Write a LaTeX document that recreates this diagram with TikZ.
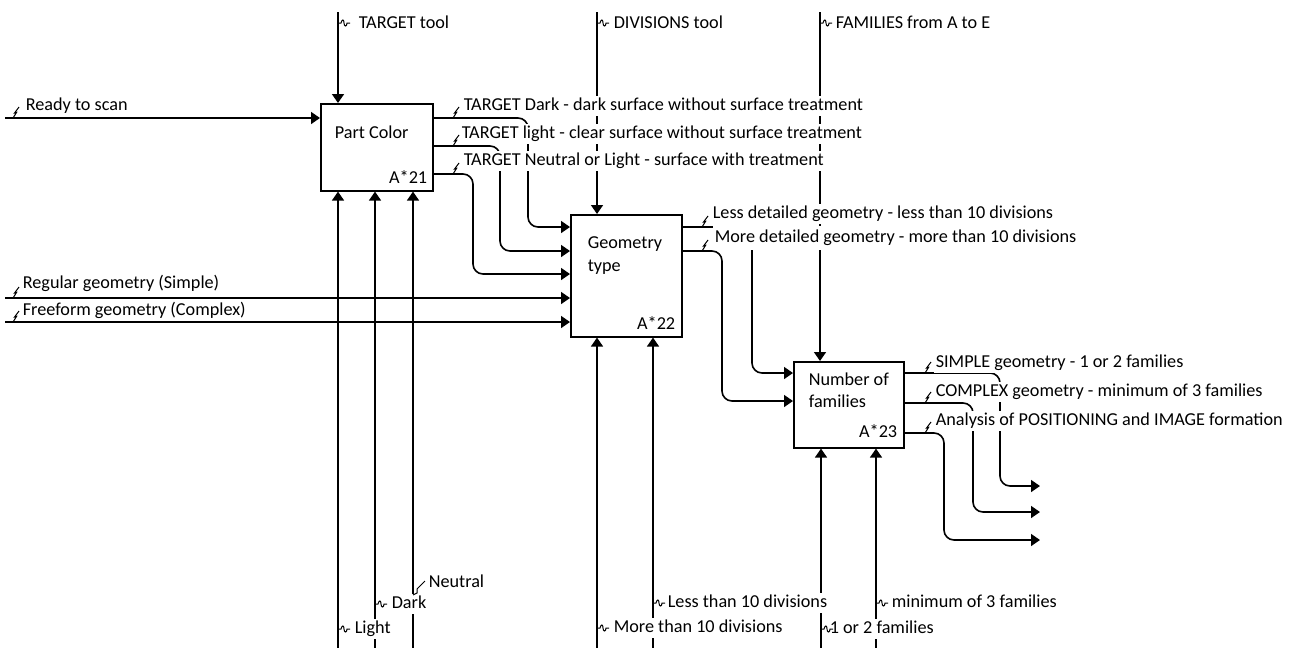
\documentclass[tikz,border=0pt]{standalone}
\usepackage{fontspec}
\setmainfont{Carlito}
\usetikzlibrary{arrows.meta}
\begin{document}
\begin{tikzpicture}[x=1pt,y=-1pt,
  line width=1.6pt,
  box/.style={draw, line width=1.6pt, anchor=north west, inner sep=0pt},
  fnt/.style={font=\fontsize{18.2}{21}\selectfont},
  lbl/.style={fnt, fill=white, anchor=west, inner xsep=1.5pt, inner ysep=1.5pt, text height=13.3pt, text depth=4.6pt},
  txt/.style={fnt, inner sep=0pt, text height=13.3pt, text depth=4.6pt},
  arr/.style={-{Triangle[width=12pt,length=9pt]}, rounded corners=10pt},
  pics/zl/.style={code={\draw[line width=1pt] (0,0) -- (3.5,-5.5) -- (1.5,-5) -- (6,-11);}},
  pics/zh/.style={code={\draw[line width=1pt] (0,0) -- (3,0) .. controls (4,-4) and (6,-4) .. (6,0) .. controls (6,4) and (9,4) .. (9,0) -- (12,0);}}
]
\useasboundingbox (0,0) rectangle (1294,648);

% boxes
\node[box, minimum width=112pt, minimum height=87pt] (b1) at (320,103) {};
\node[box, minimum width=111pt, minimum height=122pt] (b2) at (570,214) {};
\node[box, minimum width=110pt, minimum height=86pt] (b3) at (793,361) {};

\node[txt, anchor=west] (b1t) at (334,134) {Part Color};
\node[txt, anchor=east] (b1n) at (428,179) {A*21};
\node[txt, anchor=west] (b2t) at (587,244) {Geometry};
\node[txt, anchor=west] (b2u) at (587,267) {type};
\node[txt, anchor=east] (b2n) at (676,325) {A*22};
\node[txt, anchor=west] (b3t) at (808,381) {Number of};
\node[txt, anchor=west] (b3u) at (808,403) {families};
\node[txt, anchor=east] (b3n) at (898,433) {A*23};

% free ends
\coordinate (i1) at (5,118);
\coordinate (i2) at (5,298);
\coordinate (i3) at (5,322);
\coordinate (t1) at (338,12);
\coordinate (t2) at (597,12);
\coordinate (t3) at (820,12);
\coordinate (m1) at (338,648);
\coordinate (m2) at (375,648);
\coordinate (m3) at (413,648);
\coordinate (m4) at (597,648);
\coordinate (m5) at (653,648);
\coordinate (m6) at (821,648);
\coordinate (m7) at (876,648);
\coordinate (o1) at (1040,486);
\coordinate (o2) at (1040,512);
\coordinate (o3) at (1040,540);

% inputs
\draw[arr] (i1) -- ([yshift=-15pt]b1.north west);
\draw[arr] (i2) -- ([yshift=-84pt]b2.north west);
\draw[arr] (i3) -- ([yshift=-108pt]b2.north west);
% controls
\draw[arr] (t1) -- (b1.north -| t1);
\draw[arr] (t2) -- (b2.north -| t2);
\draw[arr] (t3) -- (b3.north -| t3);
% mechanisms
\draw[arr] (m1) -- (b1.south -| m1);
\draw[arr] (m2) -- (b1.south -| m2);
\draw[arr] (m3) -- (b1.south -| m3);
\draw[arr] (m4) -- (b2.south -| m4);
\draw[arr] (m5) -- (b2.south -| m5);
\draw[arr] (m6) -- (b3.south -| m6);
\draw[arr] (m7) -- (b3.south -| m7);
% b1 -> b2
\draw[arr] ([yshift=-15pt]b1.north east) -- (528,118) -- (528,227) -- ([yshift=-13pt]b2.north west);
\draw[arr] ([yshift=-43pt]b1.north east) -- (500,146) -- (500,251) -- ([yshift=-37pt]b2.north west);
\draw[arr] ([yshift=-71pt]b1.north east) -- (473,174) -- (473,274) -- ([yshift=-60pt]b2.north west);
% b2 -> b3
\draw[arr] ([yshift=-13pt]b2.north east) -- (752,227) -- (752,373) -- ([yshift=-12pt]b3.north west);
\draw[arr] ([yshift=-37pt]b2.north east) -- (722,251) -- (722,401) -- ([yshift=-40pt]b3.north west);
% b3 outputs
\draw[arr] ([yshift=-12pt]b3.north east) -- (1000,373) -- (1000,486) -- (o1);
\draw[arr] ([yshift=-42pt]b3.north east) -- (973,403) -- (973,512) -- (o2);
\draw[arr] ([yshift=-72pt]b3.north east) -- (944,433) -- (944,540) -- (o3);

% labels
\node[lbl] (l1) at (23.5,106) {Ready to scan};
\node[lbl] (l2) at (20.5,284) {Regular geometry (Simple)};
\node[lbl] (l3) at (20.5,311) {Freeform geometry (Complex)};
\node[lbl] (l4) at (356.5,24) {TARGET tool};
\node[lbl] (l5) at (611.5,24) {DIVISIONS tool};
\node[lbl] (l6) at (833.5,24) {FAMILIES from A to E};
\node[lbl] (l7) at (461.5,106) {TARGET Dark - dark surface without surface treatment};
\node[lbl] (l8) at (459.5,134) {TARGET light - clear surface without surface treatment};
\node[lbl] (l9) at (461.5,161) {TARGET Neutral or Light - surface with treatment};
\node[lbl] (l10) at (710.5,214) {Less detailed geometry - less than 10 divisions};
\node[lbl, inner ysep=3.2pt] (l11) at (712.5,238) {More detailed geometry - more than 10 divisions};
\node[lbl] (l12) at (933.5,363) {SIMPLE geometry - 1 or 2 families};
\node[lbl] (l13) at (933.5,392) {COMPLEX geometry - minimum of 3 families};
\node[lbl] (l14) at (933.5,421) {Analysis of POSITIONING and IMAGE formation};
\node[lbl] (l15) at (426.5,583) {Neutral};
\node[lbl] (l16) at (389.5,604) {Dark};
\node[lbl] (l17) at (352.5,629) {Light};
\node[lbl] (l18) at (665.5,603) {Less than 10 divisions};
\node[lbl] (l19) at (611.5,628) {More than 10 divisions};
\node[lbl] (l20) at (889.5,603) {minimum of 3 families};
\node[lbl] (l21) at (827.5,629) {1 or 2 families};

% squiggles
\pic at (13,118) {zl};
\pic at (13,298) {zl};
\pic at (13,322) {zl};
\pic at (453,118) {zl};
\pic at (453,146) {zl};
\pic at (453,174) {zl};
\pic at (702,227) {zl};
\pic at (702,251) {zl};
\pic at (925,373) {zl};
\pic at (925,403) {zl};
\pic at (925,433) {zl};
\pic at (338,23) {zh};
\pic at (597,23) {zh};
\pic at (820,23) {zh};
\pic at (375,604) {zh};
\pic at (338,629) {zh};
\pic at (653,603) {zh};
\pic at (597,628) {zh};
\pic at (876,603) {zh};
\pic at (821,629) {zh};
\draw[line width=1pt] (413,595) -- (417,593) -- (417,589) -- (425,581);
\end{tikzpicture}
\end{document}
